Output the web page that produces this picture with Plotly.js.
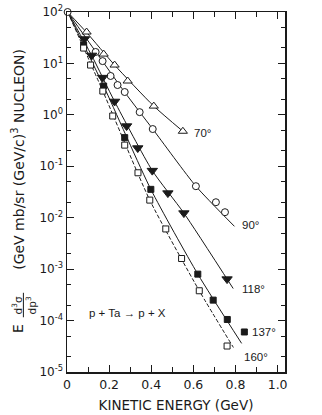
<!DOCTYPE html>
<html>
<head>
<meta charset="utf-8">
<script src="https://cdn.plot.ly/plotly-3.0.1.min.js"></script>
<style>
  html, body { margin: 0; padding: 0; background: #fff; }
  #plot { width: 322px; height: 415px; }
</style>
</head>
<body>
<div id="plot"></div>
<script>
const deg70X = [0.093, 0.174, 0.226, 0.288, 0.412, 0.55];
const deg70Y = [40.8, 15.2, 9.3, 4.55, 1.48, 0.48];

const deg90X = [0.003, 0.136, 0.169, 0.207, 0.240, 0.274, 0.345, 0.407, 0.612, 0.707, 0.750];
const deg90Y = [100, 16.7, 11.1, 5.7, 3.8, 2.78, 1.13, 0.53, 0.041, 0.020, 0.0128];

const deg118X = [0.083, 0.117, 0.169, 0.226, 0.283, 0.336, 0.405, 0.479, 0.555, 0.760];
const deg118Y = [29.8, 14.3, 5.3, 1.82, 0.605, 0.226, 0.0824, 0.0301, 0.0123, 0.00064];

const deg137X = [0.079, 0.174, 0.274, 0.398, 0.621, 0.694, 0.761, 0.842];
const deg137Y = [22.8, 3.63, 0.361, 0.0356, 8.0e-4, 2.5e-4, 1.05e-4, 6.0e-5];

const deg160X = [0.079, 0.112, 0.170, 0.217, 0.274, 0.337, 0.393, 0.469, 0.544, 0.628, 0.760];
const deg160Y = [19.9, 9.3, 2.90, 0.95, 0.258, 0.0748, 0.0220, 0.00605, 0.00161, 3.8e-4, 3.2e-5];

// fitted curves (nodes)
const fit70X = [0.003, 0.093, 0.226, 0.412, 0.55];
const fit70Y = [100, 40, 9.3, 1.48, 0.48];
const fit90X = [0.003, 0.136, 0.274, 0.407, 0.612, 0.795];
const fit90Y = [100, 17, 2.75, 0.53, 0.041, 0.0068];
const fit118X = [0.003, 0.117, 0.226, 0.405, 0.555, 0.789];
const fit118Y = [100, 14.3, 1.82, 0.0824, 0.0123, 4.2e-4];
const fit137X = [0.003, 0.174, 0.398, 0.621, 0.829];
const fit137Y = [100, 3.63, 0.0356, 8e-4, 3.6e-5];
const fit160X = [0.003, 0.170, 0.393, 0.628, 0.79];
const fit160Y = [100, 2.9, 0.022, 3.8e-4, 3.0e-5];

const angleLabels = ['70°', '90°', '118°', '137°', '160°'];
const labelX = [0.593, 0.821, 0.821, 0.869, 0.831];
const labelY = [0.443, 0.00718, 4.08e-4, 5.94e-5, 1.94e-5];

const xTicks = [0, 0.2, 0.4, 0.6, 0.8, 1.0];
const xTickText = ['0', '0.2', '0.4', '0.6', '0.8', '1.0'];
const yTicks = [1e-5, 1e-4, 1e-3, 1e-2, 1e-1, 1, 10, 100];
const yTickText = ['10<sup>-5</sup>', '10<sup>-4</sup>', '10<sup>-3</sup>', '10<sup>-2</sup>',
                   '10<sup>-1</sup>', '10<sup>0</sup>', '10<sup>1</sup>', '10<sup>2</sup>'];

const ink = '#1a1a1a';
const wide = 'DejaVu Sans, Verdana, sans-serif';
const narrow = 'Liberation Sans, Arial, sans-serif';

function fitLine(x, y, dash) {
    return {
        x: x, y: y, mode: 'lines', type: 'scatter',
        line: { color: ink, width: 1, shape: 'spline', smoothing: 0.6, dash: dash || 'solid' },
        hoverinfo: 'skip', cliponaxis: false
    };
}

function markers(x, y, symbol, size, fill) {
    return {
        x: x, y: y, mode: 'markers', type: 'scatter',
        marker: { symbol: symbol, size: size, color: fill || ink,
                  line: { color: ink, width: 1 } },
        cliponaxis: false
    };
}

// open symbols get a white fill so the lines break at the markers
const data = [
    fitLine(fit70X, fit70Y),
    fitLine(fit90X, fit90Y),
    fitLine(fit118X, fit118Y),
    fitLine(fit137X, fit137Y),
    fitLine(fit160X, fit160Y, '4px,2px'),
    markers(deg70X, deg70Y, 'triangle-up', 8, '#fff'),
    markers(deg90X, deg90Y, 'circle', 7, '#fff'),
    markers(deg118X, deg118Y, 'triangle-down', 9),
    markers(deg137X, deg137Y, 'square', 6),
    markers(deg160X, deg160Y, 'square', 6, '#fff')
];

const annotations = angleLabels.map((txt, i) => ({
    x: labelX[i], y: Math.log10(labelY[i]), xref: 'x', yref: 'y',
    text: txt, showarrow: false, xanchor: 'left', yanchor: 'middle',
    font: { family: narrow, size: 11.5, color: ink }
}));

annotations.push({
    x: 0.093, y: -3.856, xref: 'x', yref: 'y',
    text: 'p + Ta → p + X', showarrow: false, xanchor: 'left', yanchor: 'middle',
    font: { family: narrow, size: 11.5, color: ink }
});

// y axis title, built from rotated pieces (paper coords: x=(px-67)/218, y=(372-py)/360)
const titleFont = { family: wide, size: 14, color: ink };
const fracFont = { family: wide, size: 10.5, color: ink };
annotations.push(
    { x: -0.225, y: 0.122, xref: 'paper', yref: 'paper', text: 'E', textangle: -90,
      showarrow: false, xanchor: 'center', yanchor: 'middle', font: titleFont },
    { x: -0.232, y: 0.186, xref: 'paper', yref: 'paper', text: 'd<sup>3</sup>σ', textangle: -90,
      showarrow: false, xanchor: 'center', yanchor: 'middle', font: fracFont },
    { x: -0.168, y: 0.186, xref: 'paper', yref: 'paper', text: 'dp<sup>3</sup>', textangle: -90,
      showarrow: false, xanchor: 'center', yanchor: 'middle', font: fracFont },
    { x: -0.225, y: 0.592, xref: 'paper', yref: 'paper',
      text: '(GeV mb/sr (GeV/c)<sup>3</sup> NUCLEON)', textangle: -90,
      showarrow: false, xanchor: 'center', yanchor: 'middle', font: titleFont }
);

const layout = {
    width: 322, height: 415,
    margin: { l: 67, r: 37, t: 12, b: 43 },
    paper_bgcolor: '#fff', plot_bgcolor: '#fff',
    showlegend: false,
    font: { family: wide, color: ink },
    xaxis: {
        type: 'linear', range: [0, 1.035],
        tickvals: xTicks, ticktext: xTickText,
        ticks: 'inside', ticklen: 7, tickwidth: 1, tickcolor: ink,
        minor: { dtick: 0.1, ticks: 'inside', ticklen: 5, tickcolor: ink, showgrid: false },
        showline: true, linecolor: ink, linewidth: 1.5, mirror: 'ticks',
        showgrid: false, zeroline: false,
        tickfont: { family: wide, size: 12.5, color: ink },
        title: { text: 'KINETIC ENERGY (GeV)', font: { family: wide, size: 13.5, color: ink }, standoff: 10 }
    },
    yaxis: {
        type: 'log', range: [-5, 2],
        tickvals: yTicks, ticktext: yTickText,
        ticks: 'inside', ticklen: 7, tickwidth: 1, tickcolor: ink,
        minor: { ticks: 'inside', ticklen: 4, tickcolor: ink, showgrid: false },
        showline: true, linecolor: ink, linewidth: 1.5, mirror: 'ticks',
        showgrid: false, zeroline: false,
        tickfont: { family: wide, size: 12, color: ink }
    },
    shapes: [
        { type: 'line', xref: 'paper', yref: 'paper', x0: -0.2, x1: -0.2, y0: 0.152, y1: 0.22,
          line: { color: ink, width: 1 } }
    ],
    annotations: annotations
};

Plotly.newPlot('plot', data, layout, { staticPlot: true });
</script>
</body>
</html>
